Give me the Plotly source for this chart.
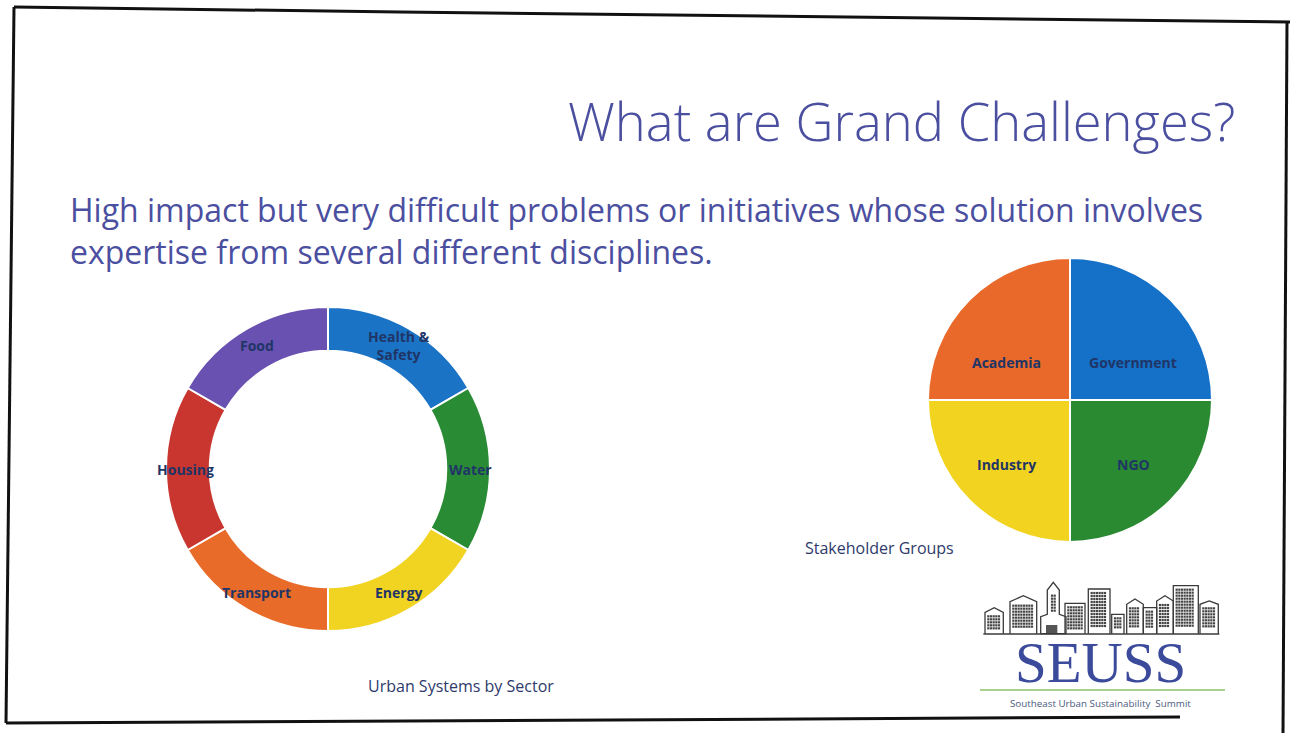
import math
import plotly.graph_objects as go

W, H = 1290, 733

# Urban systems donut (clockwise from 12 o'clock)
sectors = ["Health &<br>Safety", "Water", "Energy", "Transport", "Housing", "Food"]
sector_share = [1, 1, 1, 1, 1, 1]
sector_colors = ["#1b73c6", "#2a8b35", "#f1d321", "#e86b29", "#c8362f", "#6851b1"]

# Stakeholder pie (clockwise from 12 o'clock)
groups = ["Government", "NGO", "Industry", "Academia"]
group_share = [1, 1, 1, 1]
group_colors = ["#1570c8", "#2a8a31", "#f2d31f", "#e8692a"]

LABEL_COLOR = "#1f3566"
TEXT_BLUE = "#4b4f9f"
FONT = "Open Sans"

# geometry of the two circular charts (pixels)
DONUT_C, DONUT_R, DONUT_HOLE = (328, 469), 162, 0.73
PIE_C, PIE_R = (1070, 400), 142


def domain(center, r):
    cx, cy = center
    return dict(x=[(cx - r) / W, (cx + r) / W], y=[(H - cy - r) / H, (H - cy + r) / H])


def label_points(values, center, r, kx, ky, dy=0.0):
    total = float(sum(values))
    cx, cy = center
    pts, acc = [], 0.0
    for v in values:
        mid = 2 * math.pi * (acc + v / 2) / total
        acc += v
        pts.append((cx + kx * r * math.sin(mid), cy - ky * r * math.cos(mid) + dy))
    return pts


fig = go.Figure()

fig.add_trace(go.Pie(
    labels=sectors, values=sector_share, hole=DONUT_HOLE, sort=False,
    direction="clockwise", rotation=0, textinfo="none", hoverinfo="label",
    marker=dict(colors=sector_colors, line=dict(color="white", width=2)),
    domain=domain(DONUT_C, DONUT_R), showlegend=False,
))
fig.add_trace(go.Pie(
    labels=groups, values=group_share, sort=False,
    direction="clockwise", rotation=0, textinfo="none", hoverinfo="label",
    marker=dict(colors=group_colors, line=dict(color="white", width=2)),
    domain=domain(PIE_C, PIE_R), showlegend=False,
))

annotations = []
for name, (x, y) in zip(sectors, label_points(sector_share, DONUT_C, DONUT_R, 0.88, 0.88)):
    annotations.append(dict(x=x, y=y, text="<b>%s</b>" % name, showarrow=False,
                            font=dict(family=FONT, size=14, color=LABEL_COLOR),
                            xanchor="center", yanchor="middle"))
for name, (x, y) in zip(groups, label_points(group_share, PIE_C, PIE_R, 0.63, 0.503, 13.5)):
    annotations.append(dict(x=x, y=y, text="<b>%s</b>" % name, showarrow=False,
                            font=dict(family=FONT, size=14, color=LABEL_COLOR),
                            xanchor="center", yanchor="middle"))

# slide text
annotations += [
    dict(x=1237, y=120, text="What are Grand Challenges?", showarrow=False,
         xanchor="right", yanchor="middle",
         font=dict(family=FONT, size=52.5, color=TEXT_BLUE, weight=300)),
    dict(x=68, y=230,
         text="High impact but very difficult problems or initiatives whose solution involves"
              "<br>expertise from several different disciplines.",
         showarrow=False, xanchor="left", yanchor="middle", align="left",
         font=dict(family=FONT, size=32, color=TEXT_BLUE)),
    dict(x=461, y=686, text="Urban Systems by Sector", showarrow=False,
         xanchor="center", yanchor="middle", font=dict(family=FONT, size=16, color="#2e3a6a")),
    dict(x=879, y=548, text="Stakeholder Groups", showarrow=False,
         xanchor="center", yanchor="middle", font=dict(family=FONT, size=16, color="#2e3a6a")),
    dict(x=1100, y=662, text="SEUSS", showarrow=False, xanchor="center", yanchor="middle",
         font=dict(family="Liberation Serif", size=57, color="#3b4a9b")),
    dict(x=1100, y=703, text="Southeast Urban Sustainability&nbsp;&nbsp;Summit", showarrow=False,
         xanchor="center", yanchor="middle", font=dict(family=FONT, size=9.8, color="#4a5a80")),
]

shapes = []
# scanned slide frame
frame = dict(type="path", line=dict(color="#111", width=3), xref="x", yref="y")
shapes.append(dict(frame, path="M 14 7 L 400 12 L 1290 22"))
shapes.append(dict(frame, path="M 14 7 L 6 723"))
shapes.append(dict(frame, path="M 6 723 L 1180 717"))
shapes.append(dict(frame, path="M 1287 22 L 1283 733"))

# logo underline
shapes.append(dict(type="line", x0=980, x1=1225, y0=690, y1=690, xref="x", yref="y",
                   line=dict(color="#a9d18e", width=2)))

# skyline outline for the logo
OX, OY, S = 970, 575, 1 / 3.0


def P(x, y):
    return "%.1f %.1f" % (OX + x * S, OY + y * S)


buildings = [
    # (left, right, top, roof peak or None)  in logo units
    (45, 100, 112, 98),
    (120, 200, 80, 62),
    (285, 345, 85, None),
    (355, 420, 42, None),
    (425, 462, 118, None),
    (470, 520, 88, 72),
    (520, 560, 98, None),
    (560, 610, 78, 62),
    (610, 685, 32, None),
    (690, 745, 88, 78),
]
sky = "#3a3a3a"
for (l, r, t, peak) in buildings:
    if peak is None:
        path = "M %s L %s L %s L %s" % (P(l, 176), P(l, t), P(r, t), P(r, 176))
    else:
        m = (l + r) / 2
        path = "M %s L %s L %s L %s L %s" % (P(l, 176), P(l, t), P(m, peak), P(r, t), P(r, 176))
    shapes.append(dict(type="path", path=path, xref="x", yref="y", line=dict(color=sky, width=1.3)))

# central tower with spire and door
shapes.append(dict(type="path", xref="x", yref="y", line=dict(color=sky, width=1.3),
                   path="M %s L %s L %s L %s L %s L %s L %s L %s L %s L %s" % (
                       P(212, 176), P(212, 125), P(232, 118), P(232, 45), P(250, 22),
                       P(268, 45), P(268, 118), P(288, 125), P(288, 176), P(212, 176))))
shapes.append(dict(type="rect", xref="x", yref="y", x0=OX + 228 * S, x1=OX + 262 * S,
                   y0=OY + 150 * S, y1=OY + 174 * S, fillcolor="#555", line=dict(width=0)))
# ground line
shapes.append(dict(type="line", xref="x", yref="y", x0=OX + 40 * S, x1=OX + 748 * S,
                   y0=OY + 177 * S, y1=OY + 177 * S, line=dict(color=sky, width=1.3)))

# window grids
wx, wy = [], []
for (l, r, t, peak) in buildings + [(236, 264, 50, None)]:
    top = t + 12
    bottom = 160 if (l, r) != (236, 264) else 112
    x = l + 10
    while x <= r - 10:
        y = top
        while y <= bottom:
            wx.append(OX + x * S)
            wy.append(OY + y * S)
            y += 9
        x += 8
fig.add_trace(go.Scatter(x=wx, y=wy, mode="markers", hoverinfo="skip", showlegend=False,
                         marker=dict(symbol="square", size=2.2, color="#444")))

fig.update_layout(
    width=W, height=H, margin=dict(l=0, r=0, t=0, b=0),
    paper_bgcolor="white", plot_bgcolor="white",
    xaxis=dict(range=[0, W], visible=False, domain=[0, 1], fixedrange=True),
    yaxis=dict(range=[H, 0], visible=False, domain=[0, 1], fixedrange=True),
    annotations=annotations, shapes=shapes,
)

fig.write_html("out.html")
